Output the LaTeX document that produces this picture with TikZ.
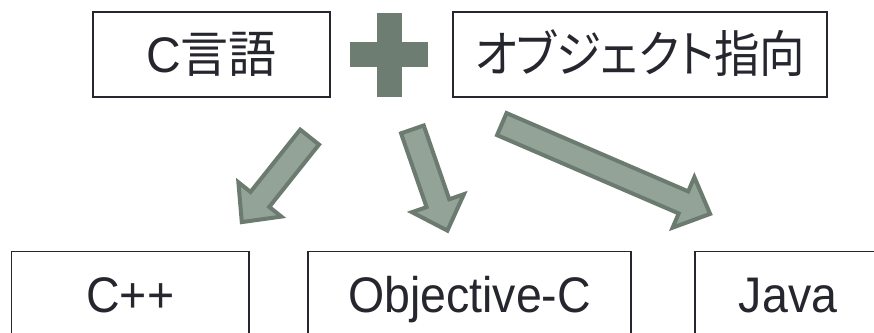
\documentclass[tikz,border=0pt]{standalone}
\usepackage{graphicx}
\usepackage{fontspec}
\setmainfont{Liberation Sans}
\newfontfamily\jpfont[RawFeature=+palt]{Noto Sans CJK JP}
\usetikzlibrary{calc}

\definecolor{inkgray}{HTML}{26262E}
\definecolor{plusgreen}{HTML}{6D7D71}
\definecolor{arrowfill}{HTML}{93A397}
\definecolor{arrowline}{HTML}{6C7B70}

% slightly condensed label text
\newcommand{\narrow}[2][0.93]{\scalebox{#1}[1]{#2}}

% block arrow from tail #1 to tip #2 (shaft half width, head half width, head length)
\newcommand{\fatarrow}[2]{%
  \path let \p0 = ($(#2)!29pt!(#1)$) in
    coordinate (h) at (\p0);
  \draw[blockarrow]
    ($(#1)!12pt!90:(#2)$) -- ($(h)!12pt!90:(#2)$) -- ($(h)!27.5pt!90:(#2)$)
    -- (#2)
    -- ($(h)!27.5pt!-90:(#2)$) -- ($(h)!12pt!-90:(#2)$) -- ($(#1)!12pt!-90:(#2)$)
    -- cycle;
}

\tikzset{
  langbox/.style={draw=inkgray, line width=1.6pt, text=inkgray, inner sep=0pt,
    minimum height=85pt, text height=36pt, text depth=0pt,
    font=\fontsize{50pt}{60pt}\selectfont},
  blockarrow/.style={fill=arrowfill, draw=arrowline, line width=4pt, miter limit=10},
  plusbar/.style={fill=plusgreen},
}

\begin{document}
\begin{tikzpicture}[x=1pt, y=-1pt]
  \useasboundingbox (0,0) rectangle (874,332);
  \clip (0,0) rectangle (874,332);

  % source concepts
  \node[langbox, minimum width=237pt] (clang) at (211.5,54.5) {\narrow[0.96]{C{\jpfont 言語}}};
  \node[langbox, minimum width=374pt] (oop) at (640,54.5) {\narrow[0.91]{\jpfont オブジェクト指向}};

  % plus sign between them
  \fill[plusbar] (377,13) rectangle (402,97);
  \fill[plusbar] (350,42) rectangle (428,67);

  % resulting languages
  \node[langbox, minimum width=237.5pt] (cpp) at (130.25,294) {\narrow{C++}};
  \node[langbox, minimum width=323pt] (objc) at (469.5,294) {\narrow{Objective-C}};
  \node[langbox, minimum width=186pt] (java) at (788,294) {\narrow{Java}};

  % arrow ends
  \coordinate (t1) at (309.6,137.1);
  \coordinate (p1) at (241.8,222.1);
  \coordinate (t2) at (412.4,129.4);
  \coordinate (p2) at (447.4,230.6);
  \coordinate (t3) at (501.8,124.1);
  \coordinate (p3) at (710.1,213.9);

  \fatarrow{t1}{p1}
  \fatarrow{t2}{p2}
  \fatarrow{t3}{p3}
\end{tikzpicture}
\end{document}
